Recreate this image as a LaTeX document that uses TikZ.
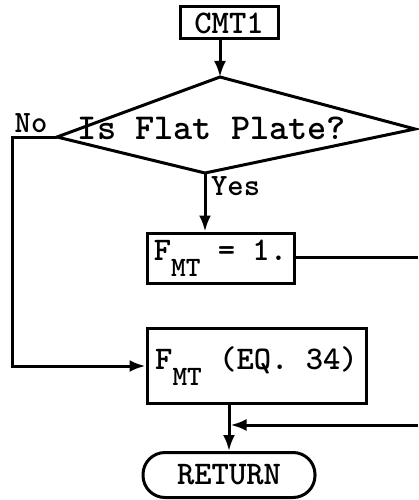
\documentclass[tikz,border=0pt]{standalone}
\usepackage{fontspec}
\usetikzlibrary{arrows.meta,calc}
\newcommand{\fmt}{F\raisebox{-16pt}{\fontsize{28}{28}\selectfont MT}}
\tikzset{
  ln/.style={line width=3pt, line join=miter},
  arr/.style={ln, -{Latex[length=16pt,width=12pt]}},
  boxx/.style={draw, line width=3pt, inner sep=0pt, font=\ttfamily\bfseries\fontsize{33}{33}\selectfont},
  lbl/.style={inner sep=0pt, font=\ttfamily\bfseries\fontsize{31}{31}\selectfont},
}
\begin{document}
\begin{tikzpicture}[x=1pt,y=-1pt]
\useasboundingbox (0,0) rectangle (418,500);
% nodes
\node[boxx, minimum width=98pt, minimum height=32pt] (cmt) at (229,23) {CMT1};
\coordinate (dtop) at (220,77);
\coordinate (dright) at (415,129);
\coordinate (dbot) at (205,173);
\coordinate (dleft) at (57,137);
\draw[ln] (dtop) -- (dright) -- (dbot) -- (dleft) -- cycle;
\node[inner sep=0pt, font=\ttfamily\bfseries\fontsize{36.5}{36.5}\selectfont] (q) at (212,128) {Is Flat Plate?};
\node[boxx, minimum width=147pt, minimum height=50pt] (f1) at (220.5,258) {\fmt\ = 1.};
\node[boxx, minimum width=219pt, minimum height=75pt] (f34) at (256.5,366) {\fmt\ (EQ. 34)};
\node[boxx, rounded corners=22pt, minimum width=172pt, minimum height=45pt] (ret) at (229,475) {RETURN};
\node[lbl] (no) at (31,123) {No};
\node[lbl, anchor=west] (yes) at (211,186) {Yes};
\coordinate (ncorner) at (12,137);
\coordinate (out1) at (418,257);
\coordinate (in1) at (418,425);
% connectors
\draw[arr] (cmt.south -| dtop) -- (dtop);
\draw[arr] (dbot) -- (dbot |- f1.north);
\draw[arr] (dleft) -- (ncorner) |- (f34.west);
\draw[ln] (f1.east |- out1) -- (out1);
\draw[ln] (f34.south -| ret.north) -- ($(ret.north)+(0,-20)$);
\draw[arr] ($(f34.south -| ret.north)+(0,20)$) -- (ret.north);
\draw[arr] (in1) -- ($(in1 -| ret.north)+(1.5,0)$);
\end{tikzpicture}
\end{document}
